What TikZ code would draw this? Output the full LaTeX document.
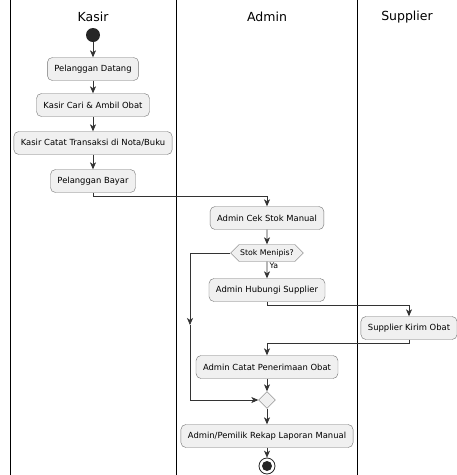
\documentclass[tikz,border=0pt]{standalone}
\usepackage{fontspec}
\setmainfont{DejaVu Sans}
\usetikzlibrary{positioning,arrows.meta,shapes.geometric,shapes.symbols}

\tikzset{
  action/.style={draw=black!55, fill=black!6, rounded corners=5pt,
    minimum height=23pt, inner xsep=7pt, font=\fontsize{8.4}{10}\selectfont},
  branch/.style={draw=black!55, fill=black!6, signal, signal to=west and east,
    minimum height=17pt, inner xsep=1pt, font=\fontsize{7.8}{9}\selectfont},
  merge/.style={draw=black!55, fill=black!6, diamond, minimum size=17pt, inner sep=0pt},
  lane/.style={line width=0.8pt},
  flow/.style={->, draw=black!80, line width=0.6pt}
}

\begin{document}
\begin{tikzpicture}[x=1pt, y=-1pt, >={Stealth[length=7pt,width=6pt,inset=2pt]}]
	\useasboundingbox [fill=white] (0,0) rectangle (457,475);
	
	\foreach \x in {10,176,357}
	\draw [lane] (\x,0) -- (\x,475);
	
	\foreach \l/\x in {Kasir/93, Admin/267, Supplier/407}
	\node [font=\fontsize{12.5}{14}\selectfont] (title-\l) at (\x,17) {\l};
	
	% kasir
	\node [circle, fill=black!85, minimum size=14pt, inner sep=0pt] (start) at (93,35) {};
	\node [action] (datang) at (93,69) {Pelanggan Datang};
	\node [action] (ambil) at (93,105) {Kasir Cari \& Ambil Obat};
	\node [action] (catat) at (93,143) {Kasir Catat Transaksi di Nota/Buku};
	\node [action] (bayar) at (93,181) {Pelanggan Bayar};
	
	% admin
	\node [action] (cek) at (267,218) {Admin Cek Stok Manual};
	\node [branch] (stok) at (267,253) {Stok Menipis?};
	\node [action] (hubungi) at (267,290) {Admin Hubungi Supplier};
	\node [action] (terima) at (267,367) {Admin Catat Penerimaan Obat};
	\node [merge] (merge) at (267,400) {};
	\node [action] (rekap) at (267,436) {Admin/Pemilik Rekap Laporan Manual};
	\node [circle, draw=black!85, line width=0.8pt, minimum size=16pt, inner sep=0pt] (stop) at (267,466) {};
	\fill [black!85] (stop) circle (5pt);
	
	% supplier
	\node [action] (kirim) at (409,328) {Supplier Kirim Obat};
	
	\coordinate (skip) at (190,325);
	
	\foreach \a/\b in {start/datang, datang/ambil, ambil/catat, catat/bayar, cek/stok, terima/merge, merge/rekap, rekap/stop}
	\draw [flow] (\a) -- (\b);
	
	\draw [flow] (stok) -- (hubungi)
	node [pos=0.25, right=-1pt, font=\fontsize{7.8}{9}\selectfont] {Ya};
	
	\draw [flow] (bayar.south) -- ++(0,4) -| (cek.north);
	\draw [flow] (hubungi.south) -- ++(0,4) -| (kirim.north);
	\draw [flow] (kirim.south) -- ++(0,4) -| (terima.north);
	
	\draw [flow] (stok.west) -| (skip);
	\draw [flow] (skip) |- (merge.west);
	
\end{tikzpicture}
\end{document}
